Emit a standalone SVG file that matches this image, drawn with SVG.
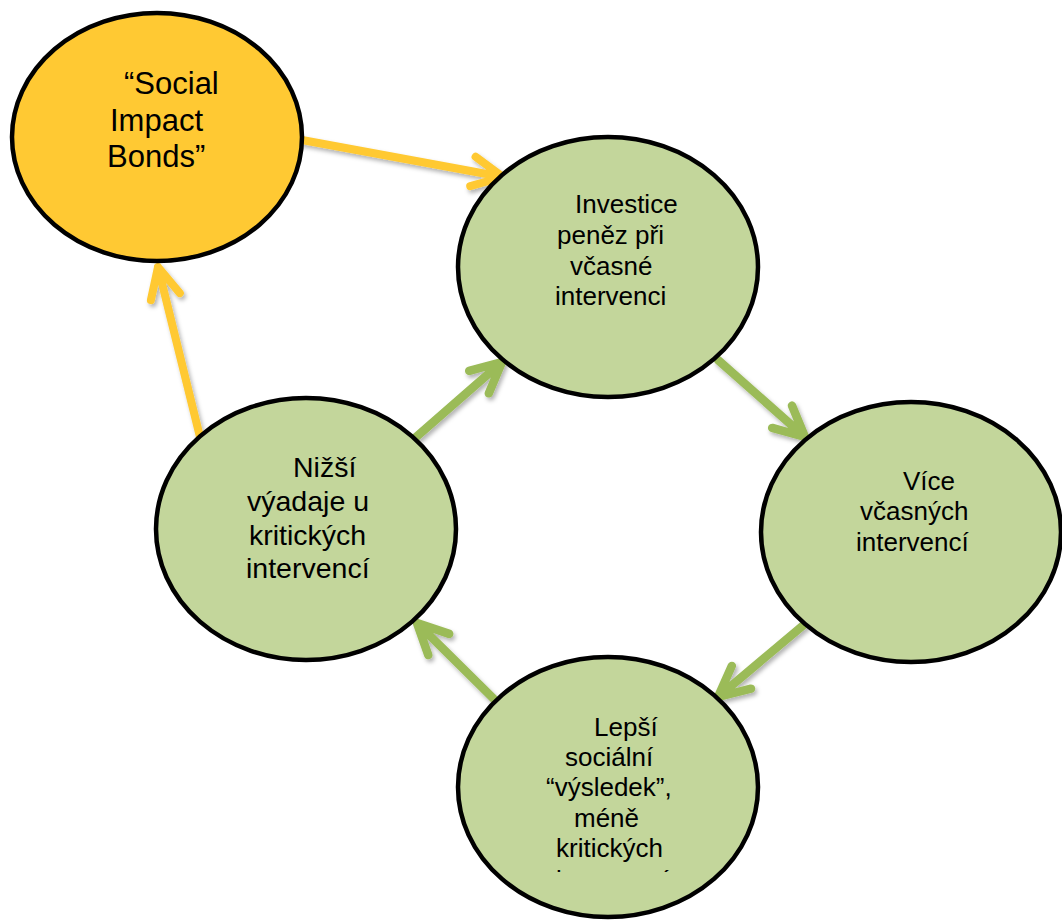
<svg xmlns="http://www.w3.org/2000/svg" width="1062" height="920" viewBox="0 0 1062 920">
<defs>
<filter id="sh" x="-20%" y="-20%" width="140%" height="140%" filterUnits="objectBoundingBox">
<feDropShadow dx="2" dy="3" stdDeviation="2" flood-color="#000" flood-opacity="0.3"/>
</filter>
<clipPath id="clipB"><rect x="0" y="0" width="1062" height="872"/></clipPath>
</defs>
<style>
.y{fill:none;stroke:#FFC933;stroke-width:8;stroke-linecap:round;stroke-linejoin:round}
.g{fill:none;stroke:#9BBB59;stroke-width:8.5;stroke-linecap:round;stroke-linejoin:round}
.n{stroke:#000;stroke-width:4.5}
.ny{fill:#FFC933}
.ng{fill:#C3D69B}
.t{font-family:"Liberation Sans",Arial,sans-serif;fill:#000}
</style>
<rect width="1062" height="920" fill="#fff"/>
<g id="connectors" filter="url(#sh)">
<path class="y" d="M302,140 L503,177 M470.2,186.1 L503,177 L475.6,156.8"/>
<path class="y" d="M200,437 L158,267 M179.8,293.1 L158,267 L150.9,300.2"/>
<path class="g" d="M415,438 L502,362 M488.8,393.3 L502,362 L469.2,370.9"/>
<path class="g" d="M718,360 L805,437 M772.2,427.9 L805,437 L792,405.6"/>
<path class="g" d="M806,623 L718,697 M751,688.7 L718,697 L731.8,665.9"/>
<path class="g" d="M502,707 L417,623 M449.2,633.9 L417,623 L428.3,655.1"/>
</g>
<g id="node-sib">
<ellipse class="n ny" cx="157" cy="137" rx="145" ry="124"/>
<text class="t" font-size="31"><tspan x="124" y="94">“Social</tspan><tspan x="110" y="131">Impact</tspan><tspan x="107" y="167">Bonds”</tspan></text>
</g>
<g id="node-investice">
<ellipse class="n ng" cx="608" cy="267" rx="150" ry="130"/>
<text class="t" font-size="26"><tspan x="575" y="213">Investice</tspan><tspan x="557" y="244">peněz při</tspan><tspan x="570" y="275">včasné</tspan><tspan x="555" y="305">intervenci</tspan></text>
</g>
<g id="node-vice">
<ellipse class="n ng" cx="911" cy="532" rx="150" ry="130"/>
<text class="t" font-size="26"><tspan x="903" y="490">Více</tspan><tspan x="860" y="520">včasných</tspan><tspan x="856" y="551">intervencí</tspan></text>
</g>
<g id="node-lepsi">
<ellipse class="n ng" cx="608" cy="787" rx="150" ry="130"/>
<g clip-path="url(#clipB)">
<text class="t" font-size="26"><tspan x="594" y="736">Lepší</tspan><tspan x="565" y="766">sociální</tspan><tspan x="546" y="796">“výsledek”,</tspan><tspan x="574" y="827">méně</tspan><tspan x="556" y="857">kritických</tspan><tspan x="556" y="889">intervencí</tspan></text>
</g>
</g>
<g id="node-nizsi">
<ellipse class="n ng" cx="306" cy="529" rx="150" ry="131"/>
<text class="t" font-size="28.5"><tspan x="293" y="477">Nižší</tspan><tspan x="247" y="511">výadaje u</tspan><tspan x="249" y="545">kritických</tspan><tspan x="246" y="578">intervencí</tspan></text>
</g>
</svg>
